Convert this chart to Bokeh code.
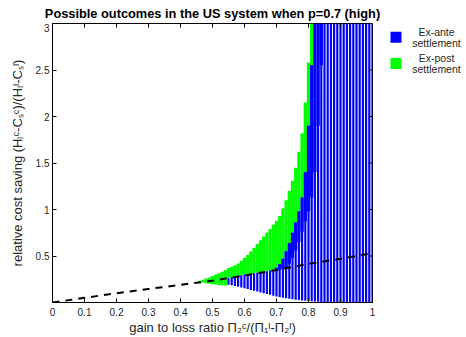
from bokeh.plotting import figure
from bokeh.models import Range1d, FixedTicker
from bokeh.layouts import row, column
from bokeh.embed import file_html
from bokeh.resources import INLINE
from bokeh.core.properties import value

title_text = "Possible outcomes in the US system when p=0.7 (high)"
x_label = "gain to loss ratio Π₂ᶜ/(Π₁ᴵ-Π₂ᴵ)"
y_label = "relative cost saving (Hₗᶜ-Cₛᶜ)/(Hₗᴵ-Cₛᴵ)"
x_ticks = [0, 0.1, 0.2, 0.3, 0.4, 0.5, 0.6, 0.7, 0.8, 0.9, 1]
y_ticks = [0.5, 1, 1.5, 2, 2.5, 3]
legend_labels = ["Ex-ante settlement", "Ex-post settlement"]
legend_colors = ["#0000FF", "#00FF00"]

# dashed reference curve
dash_x = [0, 0.1, 0.2, 0.3, 0.4, 0.5, 0.6, 0.7, 0.8, 0.9, 1.0]
dash_y = [0, 0.05, 0.10, 0.145, 0.19, 0.235, 0.29, 0.35, 0.415, 0.47, 0.53]

# ex-post settlement region (green), per column
green_x = [0.46, 0.47, 0.48, 0.49, 0.50, 0.51, 0.52, 0.53, 0.54, 0.55, 0.56, 0.57,
           0.58, 0.59, 0.60, 0.61, 0.62, 0.63, 0.64, 0.65, 0.66, 0.67, 0.68, 0.69,
           0.70, 0.71, 0.72, 0.73, 0.74, 0.75, 0.76, 0.77, 0.78, 0.79, 0.80, 0.81]
green_lo = [0.218, 0.212, 0.207, 0.202, 0.197, 0.193, 0.189, 0.185, 0.182, 0.26, 0.272, 0.28,
            0.287, 0.293, 0.30, 0.305, 0.31, 0.315, 0.32, 0.325, 0.33, 0.337, 0.345, 0.355,
            0.375, 0.41, 0.47, 0.55, 0.64, 0.75, 0.86, 0.98, 1.13, 1.40, 1.90, 2.55]
green_hi = [0.235, 0.245, 0.258, 0.27, 0.285, 0.30, 0.315, 0.33, 0.35, 0.37, 0.385, 0.40,
            0.42, 0.45, 0.48, 0.51, 0.55, 0.59, 0.63, 0.67, 0.71, 0.75, 0.79, 0.84,
            0.88, 0.93, 1.01, 1.10, 1.20, 1.31, 1.45, 1.62, 1.82, 2.15, 2.58, 3.0]

# ex-ante settlement region (blue), per column
blue_x = [0.55, 0.56, 0.57, 0.58, 0.59, 0.60, 0.61, 0.62, 0.63, 0.64, 0.65, 0.66,
          0.67, 0.68, 0.69, 0.70, 0.71, 0.72, 0.73, 0.74, 0.75, 0.76, 0.77, 0.78,
          0.79, 0.80, 0.81, 0.82, 0.83, 0.84, 0.85, 0.86, 0.87, 0.88, 0.89, 0.90,
          0.91, 0.92, 0.93, 0.94, 0.95, 0.96, 0.97, 0.98, 0.99, 1.00]
blue_lo = [0.19, 0.185, 0.178, 0.17, 0.162, 0.153, 0.144, 0.135, 0.126, 0.117, 0.108, 0.10,
           0.091, 0.082, 0.073, 0.065, 0.058, 0.051, 0.045, 0.039, 0.034, 0.030, 0.026, 0.022,
           0.019, 0.016, 0.013, 0.010, 0.007, 0.005, 0.003, 0.001, 0, 0, 0, 0,
           0, 0, 0, 0, 0, 0, 0, 0, 0, 0]
blue_hi = [0.26, 0.272, 0.28, 0.287, 0.293, 0.30, 0.305, 0.31, 0.315, 0.32, 0.325, 0.33,
           0.337, 0.345, 0.355, 0.375, 0.41, 0.47, 0.55, 0.64, 0.75, 0.86, 0.98, 1.13,
           1.40, 1.90, 2.55, 3, 3, 3, 3, 3, 3, 3, 3, 3,
           3, 3, 3, 3, 3, 3, 3, 3, 3, 3]
blue_solid_from = [0.26, 0.272, 0.28, 0.287, 0.293, 0.30, 0.305, 0.31, 0.315, 0.32, 0.325, 0.33,
                   0.337, 0.345, 0.355, 0.34, 0.35, 0.36, 0.38, 0.42, 0.48, 0.56, 0.65, 0.76,
                   0.87, 0.98, 1.13, 1.40, 1.90, 2.55, 3, 3, 3, 3, 3, 3,
                   3, 3, 3, 3, 3, 3, 3, 3, 3, 3]

FONT = "Liberation Sans"
TXT = "#262626"
Y0, Y1 = 0, 3
TITLE_H = 23


def bare(fig):
    fig.axis.visible = False
    fig.xgrid.visible = False
    fig.ygrid.visible = False
    fig.outline_line_color = None
    fig.background_fill_color = "white"
    fig.border_fill_color = "white"


# title strip
tf = figure(width=466, height=TITLE_H, x_range=Range1d(0, 466), y_range=Range1d(TITLE_H, 0),
            output_backend="svg", toolbar_location=None,
            min_border_left=0, min_border_right=0, min_border_top=0, min_border_bottom=0)
bare(tf)
tf.text(x=[212], y=[12.5], text=[title_text], text_align="center", text_baseline="middle",
        text_font=value(FONT), text_font_style="bold", text_font_size="12.8px",
        text_color="black")

# main plot
p = figure(width=378, height=337 - TITLE_H, x_range=Range1d(0, 1), y_range=Range1d(Y0, Y1),
           output_backend="svg", toolbar_location=None,
           min_border_left=52, min_border_right=6, min_border_top=0, min_border_bottom=35)
p.background_fill_color = "white"
p.border_fill_color = "white"
p.outline_line_color = "black"
p.xgrid.visible = False
p.ygrid.visible = False

p.vbar(x=green_x, bottom=green_lo, top=green_hi, width=0.0102, color="#00FF00", line_width=0)
p.vbar(x=blue_x, bottom=blue_lo, top=blue_hi, width=0.0068, color="#0000FF", line_width=0)
p.vbar(x=blue_x, bottom=blue_solid_from, top=blue_hi, width=0.0102, color="#0000FF", line_width=0)
p.line(dash_x, dash_y, line_color="black", line_width=2, line_dash="7 6")

# mirrored tick marks on the top and right edges (box on)
tick_len_y = 4 * (Y1 - Y0) / 279.0
tick_len_x = 4 / 320.0
p.segment(x0=x_ticks, x1=x_ticks, y0=[Y1] * len(x_ticks), y1=[Y1 - tick_len_y] * len(x_ticks),
          line_color="black", line_width=1)
p.segment(x0=[1] * len(y_ticks), x1=[1 - tick_len_x] * len(y_ticks), y0=y_ticks, y1=y_ticks,
          line_color="black", line_width=1)

for ax in (p.xaxis[0], p.yaxis[0]):
    ax.major_tick_in = 4
    ax.major_tick_out = 0
    ax.minor_tick_line_color = None
    ax.axis_line_color = "black"
    ax.major_tick_line_color = "black"
    ax.major_label_text_font = FONT
    ax.major_label_text_font_size = "10px"
    ax.major_label_text_color = TXT
    ax.axis_label_text_font = FONT
    ax.axis_label_text_font_size = "13px"
    ax.axis_label_text_font_style = "normal"
    ax.axis_label_text_color = TXT

p.xaxis[0].ticker = FixedTicker(ticks=x_ticks)
p.yaxis[0].ticker = FixedTicker(ticks=y_ticks)
p.xaxis[0].axis_label = x_label
p.yaxis[0].axis_label = y_label
p.xaxis[0].major_label_standoff = 5
p.xaxis[0].axis_label_standoff = 1
p.yaxis[0].major_label_standoff = 3
p.yaxis[0].axis_label_standoff = 8

# legend panel
LH = 337 - TITLE_H
lg = figure(width=88, height=LH, x_range=Range1d(0, 88), y_range=Range1d(LH, 0),
            output_backend="svg", toolbar_location=None,
            min_border_left=0, min_border_right=0, min_border_top=0, min_border_bottom=0)
bare(lg)

sq_y = [38.5 - TITLE_H, 68 - TITLE_H]
lg.rect(x=[17.5, 17.5], y=sq_y, width=11, height=11, width_units="screen",
        height_units="screen", color=legend_colors, line_width=0)
tx, ty, tt = [], [], []
for i, lab in enumerate(legend_labels):
    parts = lab.split(" ")
    tx += [58, 58]
    ty += [sq_y[i] - 6, sq_y[i] + 6.5]
    tt += parts
lg.text(x=tx, y=ty, text=tt, text_align="center", text_baseline="middle",
        text_font=value(FONT), text_font_size="10.5px", text_color=TXT)

layout = column(tf, row(p, lg))
open("out.html", "w").write(file_html(layout, INLINE))
